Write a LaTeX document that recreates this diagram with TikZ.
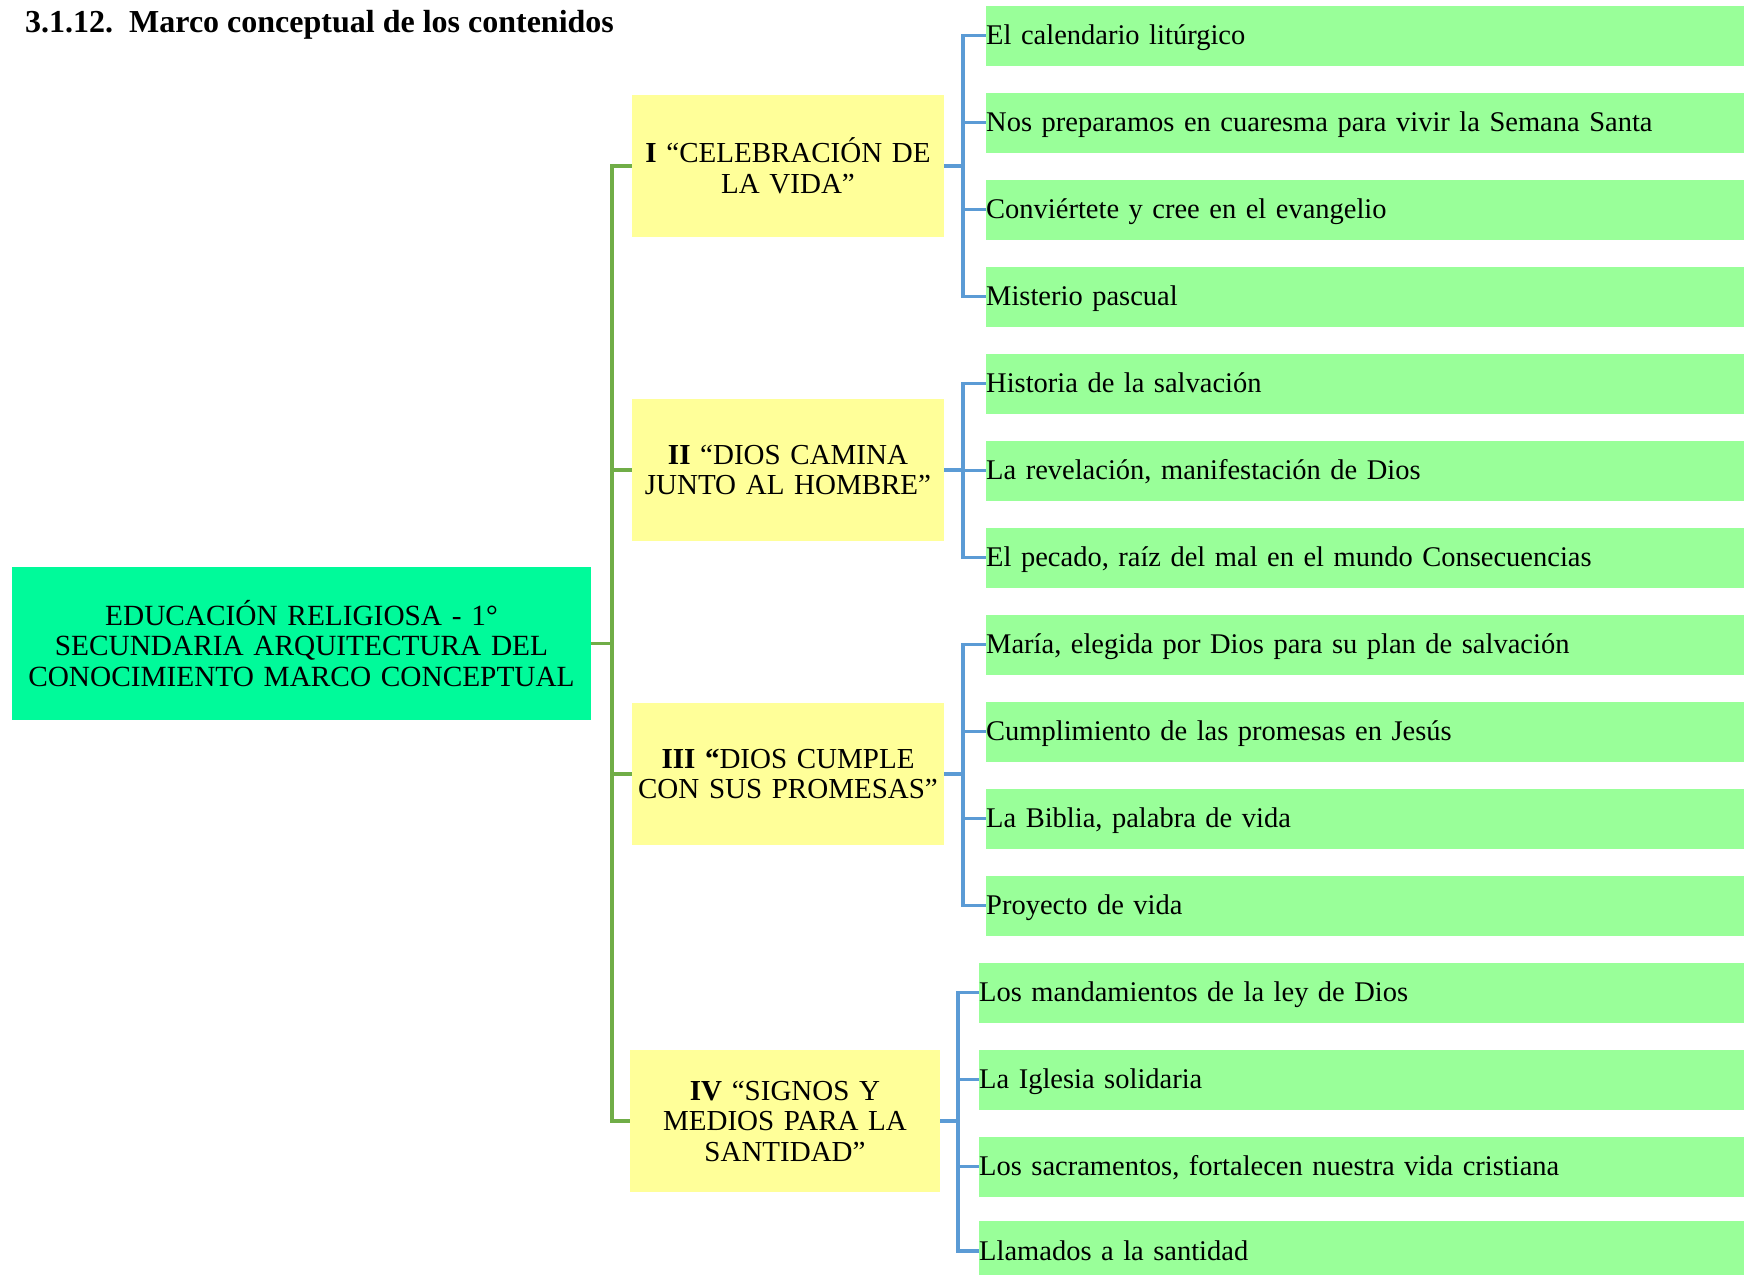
\documentclass[tikz,border=0pt]{standalone}
\usepackage{fontspec}
\setmainfont{Liberation Serif}
\definecolor{rootc}{RGB}{0,250,154}
\definecolor{yel}{RGB}{255,255,153}
\definecolor{leafc}{RGB}{153,255,153}
\definecolor{gl}{RGB}{112,173,71}
\definecolor{bl}{RGB}{91,155,213}
\tikzset{
  rootbox/.style={fill=rootc, inner sep=0pt, minimum width=579pt, minimum height=153pt, text width=570pt, align=center, font=\fontsize{29.3}{30.5}\selectfont},
  topic/.style={fill=yel, inner sep=0pt, minimum width=312pt, minimum height=142pt, text width=310pt, align=center, font=\fontsize{29}{30.5}\selectfont},
  leaf/.style={fill=leafc, inner sep=0pt, anchor=west, minimum height=60pt, text width=758pt, text height=18pt, text depth=0pt, align=left, font=\fontsize{28.5}{30.5}\selectfont},
  gline/.style={draw=gl, line width=3.2pt},
  bline/.style={draw=bl, line width=3.2pt},
}
\begin{document}
\begin{tikzpicture}[x=1pt,y=-1pt]
\useasboundingbox (0,0) rectangle (1744,1274);
\clip (0,0) rectangle (1744,1274);
\node[anchor=west, inner sep=0pt, font=\fontsize{32}{33}\selectfont\bfseries] (title) at (25,25) {3.1.12.\ \ Marco conceptual de los contenidos};
\node[rootbox] (root) at (301.5,643.5) {EDUCACIÓN RELIGIOSA - 1°\\SECUNDARIA ARQUITECTURA DEL\\CONOCIMIENTO MARCO CONCEPTUAL};
\node[topic] (t1) at (788,166) {\textbf{I} “CELEBRACIÓN DE\\LA VIDA”};
\node[topic] (t2) at (788,470) {\textbf{II} “DIOS CAMINA\\JUNTO AL HOMBRE”};
\node[topic] (t3) at (788,774) {\textbf{III “}DIOS CUMPLE\\CON SUS PROMESAS”};
\node[topic, minimum width=306pt] (t4) at (785,1121) {\textbf{IV} “SIGNOS Y\\MEDIOS PARA LA\\SANTIDAD”};
\node[leaf] (c1) at (986,35.5) {El calendario litúrgico};
\node[leaf] (c2) at (986,122.5) {Nos preparamos en cuaresma para vivir la Semana Santa};
\node[leaf] (c3) at (986,209.5) {Conviértete y cree en el evangelio};
\node[leaf] (c4) at (986,296.5) {Misterio pascual};
\node[leaf] (c5) at (986,383.5) {Historia de la salvación};
\node[leaf] (c6) at (986,470.5) {La revelación, manifestación de Dios};
\node[leaf] (c7) at (986,557.5) {El pecado, raíz del mal en el mundo Consecuencias};
\node[leaf] (c8) at (986,644.5) {María, elegida por Dios para su plan de salvación};
\node[leaf] (c9) at (986,731.5) {Cumplimiento de las promesas en Jesús};
\node[leaf] (c10) at (986,818.5) {La Biblia, palabra de vida};
\node[leaf] (c11) at (986,905.5) {Proyecto de vida};
\node[leaf, text width=765pt] (c12) at (979,992.5) {Los mandamientos de la ley de Dios};
\node[leaf, text width=765pt] (c13) at (979,1079.5) {La Iglesia solidaria};
\node[leaf, text width=765pt] (c14) at (979,1166.5) {Los sacramentos, fortalecen nuestra vida cristiana};
\node[leaf, text width=765pt] (c15) at (979,1251) {Llamados a la santidad};
% green connectors
\coordinate (g) at (612,643.5);
\draw[gline] (root.east) -- (g);
\foreach \t in {t1,t2,t3,t4} \draw[gline] (g) |- (\t.west);
% blue connectors
\coordinate (b1) at (963,166);
\coordinate (b2) at (963,470);
\coordinate (b3) at (963,774);
\coordinate (b4) at (958,1121);
\draw[bline] (t1.east) -- (b1);
\draw[bline] (t2.east) -- (b2);
\draw[bline] (t3.east) -- (b3);
\draw[bline] (t4.east) -- (b4);
\foreach \c in {c1,c2,c3,c4} \draw[bline] (b1) |- (\c.west);
\foreach \c in {c5,c6,c7} \draw[bline] (b2) |- (\c.west);
\foreach \c in {c8,c9,c10,c11} \draw[bline] (b3) |- (\c.west);
\foreach \c in {c12,c13,c14,c15} \draw[bline] (b4) |- (\c.west);
\end{tikzpicture}
\end{document}
